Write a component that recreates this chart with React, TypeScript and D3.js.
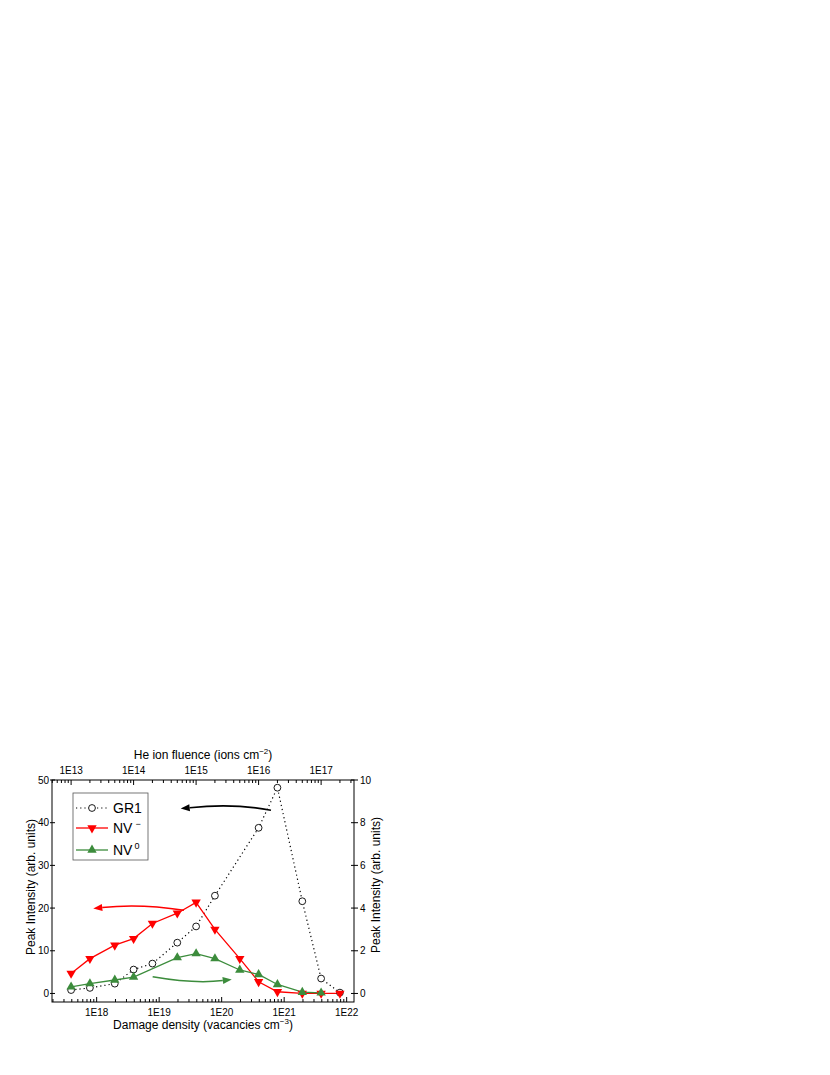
import React from "react";
import * as d3 from "d3";

// He ion fluence of each sample (ions cm^-2); damage density = fluence * factor
const fluence = [1e13, 2e13, 5e13, 1e14, 2e14, 5e14, 1e15, 2e15, 5e15, 1e16, 2e16, 5e16, 1e17, 2e17];
const DAMAGE_PER_ION = 3.9e4;

// GR1 on the left axis (no sample at 5E15)
const gr1Fluence = [1e13, 2e13, 5e13, 1e14, 2e14, 5e14, 1e15, 2e15, 1e16, 2e16, 5e16, 1e17, 2e17];
const gr1Values = [0.8, 1.3, 2.3, 5.6, 7.0, 11.9, 15.7, 22.9, 38.8, 48.2, 21.6, 3.5, 0.2];

// NV- on the right axis
const nvMinusValues = [0.94, 1.63, 2.26, 2.57, 3.28, 3.76, 4.27, 3.0, 1.63, 0.55, 0.08, 0.0, 0.0, 0.0];

// NV0 on the right axis
const nv0Fluence = [1e13, 2e13, 5e13, 1e14, 5e14, 1e15, 2e15, 5e15, 1e16, 2e16, 5e16, 1e17];
const nv0Values = [0.31, 0.46, 0.63, 0.77, 1.68, 1.87, 1.63, 1.1, 0.89, 0.42, 0.06, 0.03];

const bottomTicks = [1e18, 1e19, 1e20, 1e21, 1e22];
const topTicks = [1e13, 1e14, 1e15, 1e16, 1e17];
const leftTicks = [0, 10, 20, 30, 40, 50];
const rightTicks = [0, 2, 4, 6, 8, 10];

// curved arrows: damage density (x) and left-axis units (y)
const arrows = [
  { color: "#000", x0: 6.15e20, y0: 42.9, cx: 1.6e20, cy: 44.6, x1: 2.21e19, y1: 43.3 },
  { color: "#ff0000", x0: 2.49e19, y0: 19.5, cx: 4.9e18, cy: 21.1, x1: 8.83e17, y1: 19.9 },
  { color: "#3c8c3c", x0: 7.87e18, y0: 3.9, cx: 3.7e19, cy: 2.2, x1: 1.45e20, y1: 3.28 },
];

const RED = "#ff0000";
const GREEN = "#3c8c3c";
const FONT = "'Liberation Sans', Arial, sans-serif";

const left = 52, right = 354, top = 780, bottom = 1002;

const x = d3.scaleLog().domain([1.93e17, 1.31e22]).range([left, right]);
const xTop = d3.scaleLog()
  .domain(x.domain().map((d) => d / DAMAGE_PER_ION))
  .range([left, right]);
const yL = d3.scaleLinear().domain([-2, 50]).range([bottom, top]);
const yR = d3.scaleLinear().domain([-0.4, 10]).range([bottom, top]);

function minors(scale: d3.ScaleLogarithmic<number, number>) {
  const [a, b] = scale.domain();
  const out: number[] = [];
  for (let e = Math.floor(Math.log10(a)); e <= Math.ceil(Math.log10(b)); e++) {
    for (let k = 2; k <= 9; k++) {
      const v = k * Math.pow(10, e);
      if (v >= a && v <= b) out.push(v);
    }
  }
  return out;
}

const fmtE = (v: number) => `1E${Math.round(Math.log10(v))}`;

const triUp = d3.symbol(d3.symbolTriangle, 38)()!;

function Arrow({ a }: { a: (typeof arrows)[number] }) {
  const p0 = [x(a.x0), yL(a.y0)];
  const c = [x(a.cx), yL(a.cy)];
  const p1 = [x(a.x1), yL(a.y1)];
  const ang = Math.atan2(p1[1] - c[1], p1[0] - c[0]);
  const len = 9, hw = 3.5;
  const bx = p1[0] - len * Math.cos(ang), by = p1[1] - len * Math.sin(ang);
  const path = d3.path();
  path.moveTo(p0[0], p0[1]);
  path.quadraticCurveTo(c[0], c[1], bx, by);
  const head = [
    [p1[0], p1[1]],
    [bx + hw * Math.sin(ang), by - hw * Math.cos(ang)],
    [bx - hw * Math.sin(ang), by + hw * Math.cos(ang)],
  ];
  return (
    <g>
      <path d={path.toString()} fill="none" stroke={a.color} strokeWidth={1.6} />
      <polygon points={head.map((p) => p.join(",")).join(" ")} fill={a.color} />
    </g>
  );
}

export default function App() {
  const gr1Line = d3.line<number>()
    .x((_, i) => xTop(gr1Fluence[i]))
    .y((d) => yL(d));
  const nvmLine = d3.line<number>()
    .x((_, i) => xTop(fluence[i]))
    .y((d) => yR(d));
  const nv0Line = d3.line<number>()
    .x((_, i) => xTop(nv0Fluence[i]))
    .y((d) => yR(d));

  return (
    <svg
      width={830}
      height={1075}
      style={{ position: "absolute", left: 0, top: 0, fontFamily: FONT }}
    >
      <rect x={0} y={0} width={830} height={1075} fill="#fff" />

      {/* series */}
      <path d={gr1Line(gr1Values)!} fill="none" stroke="#000" strokeWidth={1.2} strokeDasharray="1.2,3" />
      <path d={nvmLine(nvMinusValues)!} fill="none" stroke={RED} strokeWidth={1.3} />
      <path d={nv0Line(nv0Values)!} fill="none" stroke={GREEN} strokeWidth={1.3} />

      {gr1Values.map((v, i) => (
        <circle key={"g" + i} cx={xTop(gr1Fluence[i])} cy={yL(v)} r={3.4} fill="#fff" stroke="#000" strokeWidth={0.9} />
      ))}
      {nvMinusValues.map((v, i) => (
        <path key={"m" + i} d={triUp} transform={`translate(${xTop(fluence[i])},${yR(v)}) rotate(180)`} fill={RED} />
      ))}
      {nv0Values.map((v, i) => (
        <path key={"z" + i} d={triUp} transform={`translate(${xTop(nv0Fluence[i])},${yR(v)})`} fill={GREEN} />
      ))}

      {arrows.map((a, i) => <Arrow key={i} a={a} />)}

      {/* frame */}
      <rect x={left} y={top} width={right - left} height={bottom - top} fill="none" stroke="#000" strokeWidth={1} />

      {/* bottom axis */}
      {bottomTicks.map((t) => (
        <g key={t}>
          <line x1={x(t)} x2={x(t)} y1={bottom} y2={bottom - 5} stroke="#000" />
          <text x={x(t)} y={bottom + 14} fontSize={10} textAnchor="middle">{fmtE(t)}</text>
        </g>
      ))}
      {minors(x).map((t) => (
        <line key={"bm" + t} x1={x(t)} x2={x(t)} y1={bottom} y2={bottom - 3} stroke="#000" />
      ))}
      <text x={(left + right) / 2} y={1029} fontSize={12} textAnchor="middle">
        Damage density (vacancies cm<tspan dy={-5} fontSize={8}>−3</tspan><tspan dy={5}>)</tspan>
      </text>

      {/* top axis */}
      {topTicks.map((t) => (
        <g key={t}>
          <line x1={xTop(t)} x2={xTop(t)} y1={top} y2={top + 5} stroke="#000" />
          <text x={xTop(t)} y={top - 6} fontSize={10} textAnchor="middle">{fmtE(t)}</text>
        </g>
      ))}
      {minors(xTop).map((t) => (
        <line key={"tm" + t} x1={xTop(t)} x2={xTop(t)} y1={top} y2={top + 3} stroke="#000" />
      ))}
      <text x={203} y={759} fontSize={12} textAnchor="middle">
        He ion fluence (ions cm<tspan dy={-5} fontSize={8}>−2</tspan><tspan dy={5}>)</tspan>
      </text>

      {/* left axis */}
      {leftTicks.map((t) => (
        <g key={t}>
          <line x1={left - 2} x2={left + 3} y1={yL(t)} y2={yL(t)} stroke="#000" />
          <text x={left - 3} y={yL(t) + 3.5} fontSize={10} textAnchor="end">{t}</text>
        </g>
      ))}
      <text transform={`translate(35,${(top + bottom) / 2 - 4}) rotate(-90)`} fontSize={12} textAnchor="middle">
        Peak Intensity (arb. units)
      </text>

      {/* right axis */}
      {rightTicks.map((t) => (
        <g key={t}>
          <line x1={right - 3} x2={right + 4} y1={yR(t)} y2={yR(t)} stroke="#000" />
          <text x={right + 6} y={yR(t) + 3.5} fontSize={10} textAnchor="start">{t}</text>
        </g>
      ))}
      <text transform={`translate(380,${(top + bottom) / 2 - 6}) rotate(-90)`} fontSize={12} textAnchor="middle">
        Peak Intensity (arb. units)
      </text>

      {/* legend */}
      <g>
        <rect x={73} y={793} width={75} height={67} fill="#fff" stroke="#555" strokeWidth={0.8} />
        <line x1={76} x2={108} y1={808} y2={808} stroke="#000" strokeWidth={1.1} strokeDasharray="1.2,3" />
        <circle cx={92} cy={808} r={3.4} fill="#fff" stroke="#000" strokeWidth={0.9} />
        <text x={113} y={813} fontSize={14}>GR1</text>

        <line x1={76} x2={108} y1={828} y2={828} stroke={RED} strokeWidth={1.3} />
        <path d={triUp} transform="translate(92,828) rotate(180)" fill={RED} />
        <text x={113} y={833} fontSize={14}>NV<tspan dx={3} dy={-6} fontSize={9}>−</tspan></text>

        <line x1={76} x2={108} y1={850} y2={850} stroke={GREEN} strokeWidth={1.3} />
        <path d={triUp} transform="translate(92,850)" fill={GREEN} />
        <text x={113} y={855} fontSize={14}>NV<tspan dx={2} dy={-6} fontSize={9}>0</tspan></text>
      </g>
    </svg>
  );
}
